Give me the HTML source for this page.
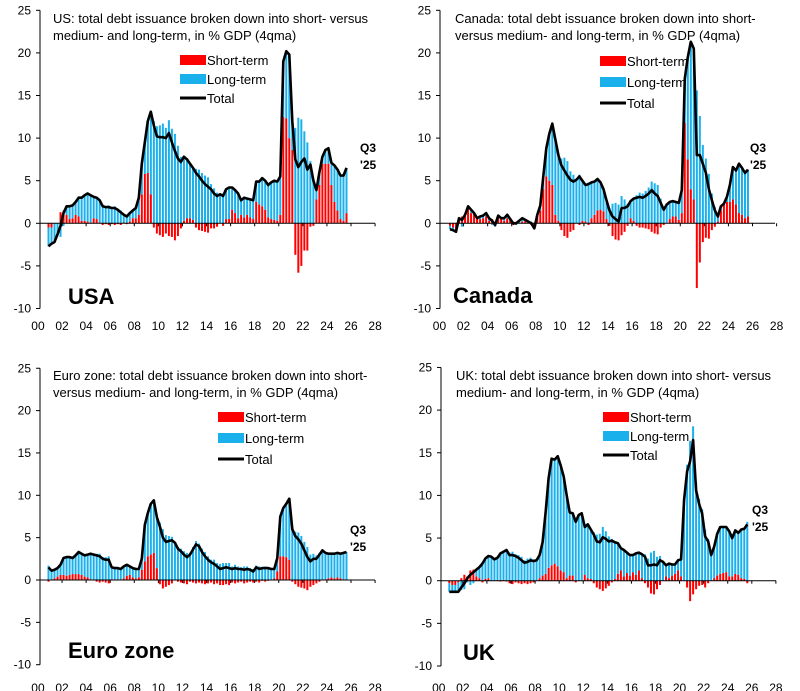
<!DOCTYPE html>
<html><head><meta charset="utf-8"><style>
html,body{margin:0;padding:0;background:#fff;width:800px;height:691px;overflow:hidden}
svg{display:block;font-family:"Liberation Sans",Arial,sans-serif}
</style></head><body>
<svg id="chart" width="800" height="691"></svg>
<script>
const usTotal=[-2.7,-2.4,-2.2,-1.3,-0.3,1.2,2.0,2.0,2.1,2.5,3.0,3.0,3.3,3.5,3.3,3.1,3.0,2.7,2.0,1.9,1.9,1.8,1.8,1.6,1.3,1.0,0.8,1.2,1.5,1.8,3.0,7.0,9.5,12.0,13.1,11.5,10.2,10.1,10.1,10.0,10.6,9.5,8.5,7.6,7.2,7.8,7.5,7.0,6.5,5.9,5.5,5.0,4.6,4.3,4.0,3.5,3.2,3.4,3.2,4.0,4.2,4.2,3.9,3.5,2.7,3.0,2.9,2.8,2.7,4.9,4.9,5.3,5.0,4.5,4.8,5.0,4.9,5.5,19.0,20.2,19.8,12.0,7.5,6.6,7.2,7.6,6.3,6.9,5.0,3.9,6.0,7.8,8.6,8.8,7.1,6.8,6.3,5.6,5.6,6.5];
const usShort=[-0.5,-0.5,0,0,1.3,1.5,1.0,0.5,0.6,1.0,0.8,0.3,0.3,0.2,0.1,0.6,0.5,0.1,-0.2,-0.1,-0.2,-0.1,-0.2,-0.1,-0.2,0.1,-0.1,0.2,0.6,0.6,1.0,3.4,5.8,5.9,3.4,-0.5,-1.2,-1.4,-1.6,-1.2,-1.5,-1.6,-2.0,-1.5,-0.6,0.3,0.6,0.6,0.4,-0.5,-0.8,-0.9,-1.0,-1.1,-0.6,-0.6,-0.4,0.0,-0.3,0.5,0.5,1.6,1.2,0.6,1.0,0.7,1.0,0.7,0.5,2.5,2.2,2.0,1.6,0.7,0.5,0.4,0.3,1.0,12.5,12.3,10.0,8.6,-3.7,-5.8,-5.0,-3.2,-3.2,-0.4,-0.3,2.8,4.5,7.0,7.0,7.0,4.5,2.5,1.5,0.5,0.3,1.2];
const caTotal=[-0.7,-0.8,-1.0,0.6,0.4,1.0,2.0,1.6,1.2,0.6,0.8,0.9,1.2,0.6,0.3,-0.2,0.9,0.6,0.6,1.0,0.5,0.0,0.0,0.3,0.6,0.4,0.2,0.0,-0.6,1.0,2.1,5.5,8.8,10.5,11.7,9.8,8.0,6.8,6.2,5.6,5.1,4.9,5.1,5.5,5.0,4.5,4.6,4.8,4.9,5.2,4.8,4.0,2.7,1.5,0.8,0.5,0.2,1.8,1.8,2.0,2.6,2.9,3.0,3.1,3.0,3.2,3.5,3.9,3.5,3.2,2.4,1.6,2.2,2.5,2.6,2.5,2.4,3.9,17.0,19.5,21.3,20.5,8.0,8.0,7.0,5.9,4.0,2.7,1.5,0.8,2.0,2.3,3.1,4.5,6.6,6.2,7.0,6.5,5.9,6.3];
const caShort=[-0.3,-0.5,-0.8,0.4,0.8,0.8,1.7,1.2,1.2,0.6,0.5,0.6,0.8,0.3,0.5,0.2,0.8,0.6,0.3,0.6,0.4,-0.2,0.2,0.0,0.2,0.3,0.0,-0.2,-0.5,0.8,1.5,4.0,5.5,5.0,4.5,1.0,0.3,-0.8,-1.5,-1.7,-1.0,-0.8,0.0,-0.2,0.3,0.2,-0.2,0.6,1.0,1.5,1.6,1.4,0.5,-0.3,-1.5,-1.9,-2.0,-1.4,-1.0,-0.3,0.6,0.3,-0.3,-0.5,-0.5,-0.6,-0.7,-1.0,-1.2,-1.3,-0.5,-0.2,0.0,0.5,0.8,0.8,0.4,1.2,11.8,7.5,4.0,2.8,-7.6,-4.6,-2.2,-1.7,-1.8,-0.8,-0.4,0.2,1.5,2.3,2.5,2.5,2.8,2.2,1.2,1.0,0.6,0.8];
const euTotal=[1.5,1.1,1.2,1.4,1.8,2.6,2.7,2.7,2.6,2.9,3.3,3.1,2.9,3.0,3.1,3.0,2.9,2.8,2.5,2.4,2.4,1.5,1.4,1.4,1.3,1.6,1.8,1.6,1.4,1.3,1.3,2.5,6.5,7.9,9.0,9.4,7.4,6.3,5.0,4.5,4.6,4.7,4.4,3.7,3.4,3.0,2.7,3.0,3.6,4.2,4.0,3.3,2.8,2.4,2.1,1.9,1.6,1.3,1.4,1.5,1.4,1.3,1.4,1.3,1.3,1.2,1.3,1.2,1.0,1.5,1.3,1.4,1.4,1.4,1.3,1.3,2.6,7.5,8.5,9.0,9.6,6.0,5.2,4.8,4.3,3.5,2.7,2.2,2.5,2.5,3.0,3.5,3.2,3.1,3.1,3.1,3.2,3.1,3.2,3.3];
const euShort=[-0.2,0,0.2,0.4,0.6,0.6,0.5,0.6,0.7,0.7,0.7,0.6,0.4,0.3,0.1,0.0,-0.2,-0.3,-0.2,-0.3,-0.4,0.1,0.0,0.1,0.0,0.2,0.5,0.6,0.3,0.2,0.3,1.2,2.2,2.8,3.0,3.2,1.4,-0.5,-1.0,-0.8,-0.6,-0.4,0.0,-0.2,-0.3,-0.4,-0.5,-0.2,-0.3,-0.4,-0.3,-0.4,-0.5,-0.4,-0.3,-0.5,-0.4,-0.6,-0.6,-0.5,-0.6,-0.3,-0.4,-0.3,-0.2,-0.4,-0.3,-0.2,-0.3,-0.2,-0.3,-0.1,-0.2,-0.1,0.0,0.2,1.0,2.8,2.8,2.7,2.4,-0.2,-0.5,-0.8,-0.9,-1.0,-1.2,-0.8,-0.6,-0.4,-0.2,0.0,0.1,0.2,0.3,0.2,0.3,0.2,0.1,0.0];
const ukTotal=[-1.3,-1.3,-1.3,-1.3,-0.8,-0.3,0.3,0.7,1.0,1.3,1.6,2.0,2.6,2.9,2.8,2.5,2.7,3.2,3.4,3.6,3.0,3.0,2.9,2.7,2.4,2.1,2.2,2.4,2.3,2.4,3.0,4.5,8.0,12.0,14.3,14.2,14.6,13.5,12.2,10.0,8.0,7.9,6.9,7.7,7.9,6.3,6.6,6.0,5.4,4.6,4.5,5.1,4.9,4.6,4.7,4.5,4.4,3.8,3.6,3.3,3.0,3.0,3.2,3.3,3.1,2.8,1.8,1.8,1.9,1.8,2.4,2.2,1.8,2.0,1.9,1.9,2.4,2.5,9.5,12.8,14.0,16.5,10.6,9.0,7.9,5.2,4.6,3.0,4.0,5.5,6.3,6.3,6.3,5.8,5.0,5.9,5.6,6.0,6.1,6.6];
const ukShort=[-0.3,-0.5,-0.5,-0.2,0.3,0.7,0.5,1.2,1.3,0.5,0.3,-0.2,0.2,0.3,0.0,0.0,0.1,-0.1,0.1,-0.1,-0.3,-0.4,-0.2,-0.3,-0.4,-0.3,-0.4,-0.3,-0.2,0.0,0.3,0.6,0.8,1.5,1.8,2.0,1.7,1.2,1.0,0.3,0.6,0.6,-0.2,0.0,0.0,0.7,0.3,0.2,-0.3,-0.8,-1.0,-1.2,-0.9,-0.6,-0.2,0.2,0.8,1.2,0.5,0.9,0.6,1.0,0.7,1.2,0.3,-0.3,-0.8,-1.5,-1.6,-1.0,-0.5,0.0,0.5,0.3,0.6,0.8,1.2,0.5,0.0,-0.8,-2.4,-1.6,-1.0,-0.6,-0.5,-0.8,-0.3,0.0,0.3,0.6,0.8,0.9,1.0,0.5,0.5,0.8,0.7,0.3,0.2,-0.3];
const yTicks=[25,20,15,10,5,0,-5,-10];
const xTickLabels=["00","02","04","06","08","10","12","14","16","18","20","22","24","26","28"];

const NS="http://www.w3.org/2000/svg";
const svg=document.getElementById('chart');
function mk(tag,attrs,parent){const e=document.createElementNS(NS,tag);for(const k in attrs)e.setAttribute(k,attrs[k]);(parent||svg).appendChild(e);return e;}

function drawPanel(p,total,shortT){
  const g=mk('g',{});
  
  
  const yS=v=>p.y0-v*p.k;
  const xS=i=>p.bx+i*3.01;
  const yrX=yr=>p.bx-0.875*12.04+yr*12.04;
  // y axis
  const ax=mk('line',{x1:p.ax,x2:p.ax,y1:yS(25),y2:yS(-10),stroke:'#000','stroke-width':1},g);
  
  
  yTicks.forEach(t=>{
    mk('line',{x1:p.ax-4,x2:p.ax,y1:yS(t),y2:yS(t),stroke:'#000'},g);
    const tx=mk('text',{x:p.ax-9,y:yS(t)+4,'text-anchor':'end','font-size':12,fill:'#000'},g);
    tx.textContent=t;
    
    
  });
  // bars
  total.forEach((tv,i)=>{
    const s=shortT[i], l=tv-s;
    const x=xS(i)-1;
    let base=0;
    if(s>0){
      const r=mk('rect',{x:x,y:yS(s),width:2,height:s*p.k,fill:'#ff0000'},g);
      
      
      base=s;
    } else if(s<0){
      const r=mk('rect',{x:x,y:yS(0),width:2,height:-s*p.k,fill:'#ff0000'},g);
      
      
    }
    if(l>0){
      const b=mk('rect',{x:x,y:yS(base+l),width:2,height:l*p.k,fill:'#1ab0ec'},g);
      
      
    } else if(l<0){
      const b=mk('rect',{x:x,y:yS(Math.min(0,s)),width:2,height:-l*p.k,fill:'#1ab0ec'},g);
      
      
    }
  });
  // x axis
  const xa=mk('line',{x1:p.ax,x2:p.ax+335,y1:p.y0,y2:p.y0,stroke:'#000','stroke-width':1},g);
  
  
  xTickLabels.forEach((lab,j)=>{
    const x=yrX(j*2);
    if(j>0) mk('line',{x1:x,x2:x,y1:p.y0,y2:p.y0+3,stroke:'#000'},g);
    const tx=mk('text',{x:x,y:p.xl,'text-anchor':'middle','font-size':12,fill:'#000'},g);
    tx.textContent=lab;
    
    
  });
  // total line
  const pts=total.map((v,i)=>xS(i).toFixed(1)+','+yS(v).toFixed(1)).join(' ');
  const pl=mk('polyline',{points:pts,fill:'none',stroke:'#000','stroke-width':2.6,'stroke-linejoin':'round'},g);
  
  
  // title
  p.title.forEach((t,j)=>{
    const tx=mk('text',{x:p.tx,y:p.ty+j*17,'font-size':13,fill:'#000'},g);
    tx.textContent=t;
    
    
  });
  // legend
  const leg=[['Short-term','#ff0000'],['Long-term','#1ab0ec'],['Total','#000']];
  leg.forEach((L,j)=>{
    const cy=p.ly+j*p.lg;
    if(j<2){mk('rect',{x:p.lx,y:cy-5,width:26,height:10,fill:L[1]},g);}
    else{mk('line',{x1:p.lx,x2:p.lx+26,y1:cy,y2:cy,stroke:'#000','stroke-width':3},g);}
    const tx=mk('text',{x:p.lx+27,y:cy+5,'font-size':13,fill:'#000'},g);
    tx.textContent=L[0];
    
    
  });
  // Q3 '25
  const q=mk('text',{x:p.qx,y:p.qy,'font-size':12,'font-weight':'bold',fill:'#000'},g);
  q.textContent='Q3';
  
  
  const q2=mk('text',{x:p.qx,y:p.qy+17,'font-size':12,'font-weight':'bold',fill:'#000'},g);
  q2.textContent="'25";
  
  
  // big label
  const bl=mk('text',{x:p.bigx,y:p.bigy,'font-size':22,'font-weight':'bold',fill:'#000'},g);
  bl.textContent=p.big;
  
  
}

drawPanel({name:'us',ax:40,bx:48.5,y0:223.3,k:8.52,xl:330,tx:53,ty:23,title:['US: total debt issuance broken down into short- versus','medium- and long-term, in % GDP (4qma)'],lx:180,ly:60,lg:19,qx:360,qy:152,big:'USA',bigx:68,bigy:304},usTotal,usShort);
drawPanel({name:'canada',ax:440,bx:450,y0:223.3,k:8.52,xl:330,tx:455,ty:23,title:['Canada: total debt issuance broken down into short-','versus medium- and long-term, in % GDP (4qma)'],lx:600,ly:61,lg:21,qx:750,qy:152,big:'Canada',bigx:453,bigy:303},caTotal,caShort);
drawPanel({name:'euro-zone',ax:40,bx:48.5,y0:580,k:8.47,xl:692,tx:53,ty:380,title:['Euro zone: total debt issuance broken down into short-','versus medium- and long-term, in % GDP (4qma)'],lx:218,ly:417,lg:21,qx:350,qy:534,big:'Euro zone',bigx:68,bigy:658},euTotal,euShort);
drawPanel({name:'uk',ax:441,bx:449.3,y0:580.7,k:8.53,xl:692,tx:456,ty:380,title:['UK: total debt issuance broken down into short- versus','medium- and long-term, in % GDP (4qma)'],lx:603,ly:417,lg:19,qx:752,qy:514,big:'UK',bigx:463,bigy:660},ukTotal,ukShort);
</script>
</body></html>
